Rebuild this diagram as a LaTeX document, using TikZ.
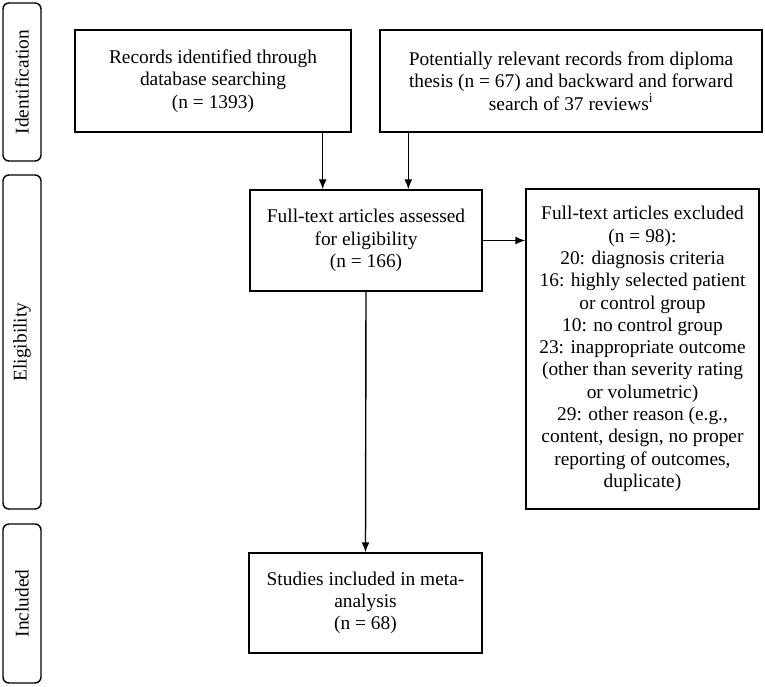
\documentclass[tikz,border=0pt]{standalone}
\usepackage{fontspec}
\setmainfont{Liberation Serif}
\usetikzlibrary{arrows.meta}
\begin{document}
\begin{tikzpicture}[x=1pt, y=-1pt, >={Latex[length=10pt,width=8pt]}, line width=1.4pt,
    box/.style={draw, align=center, inner sep=2pt, font=\fontsize{19.4}{22.3}\selectfont},
    phase/.style={draw, rounded corners=6pt, rotate=90, minimum height=38pt, inner sep=0pt, font=\fontsize{19.4}{22.3}\selectfont}]
    \useasboundingbox (0,0) rectangle (765,687);

    % Phase labels
    \node[phase, minimum width=158pt] (ident) at (22,82) {Identification};
    \node[phase, minimum width=334pt] (elig) at (22,342) {Eligibility};
    \node[phase, minimum width=159pt] (incl) at (22,603.5) {Included};

    % Boxes
    \node[box, minimum width=276pt, minimum height=102pt] (records) at (213,81)
        {Records identified through\\database searching\\(n = 1393)};
    \node[box, minimum width=382pt, minimum height=102pt] (potential) at (571,81)
        {Potentially relevant records from diploma\\thesis (n = 67) and backward and forward\\search of 37 reviews\textsuperscript{i}};
    \node[box, minimum width=232pt, minimum height=101pt] (assessed) at (366,240.5)
        {Full-text articles assessed\\for eligibility\\(n = 166)};
    \node[box, minimum width=233pt, minimum height=320pt] (excluded) at (642.5,349)
        {Full-text articles excluded\\(n = 98):\\20: diagnosis criteria\\16: highly selected patient\\or control group\\10: no control group\\23: inappropriate outcome\\(other than severity rating\\or volumetric)\\29: other reason (e.g.,\\content, design, no proper\\reporting of outcomes,\\duplicate)};
    \node[box, minimum width=233pt, minimum height=100pt] (included) at (365.5,603)
        {Studies included in meta-\\analysis\\(n = 68)};

    % Arrows
    \draw[->] ([xshift=-29pt]records.south east) -- ([xshift=-29pt]records.south east |- assessed.north);
    \draw[->] ([xshift=29pt]potential.south west) -- ([xshift=29pt]potential.south west |- assessed.north);
    \draw[->] (assessed.east) -- (assessed.east -| excluded.west);
    \draw[->] (assessed.south) -- (included.north);
\end{tikzpicture}
\end{document}
